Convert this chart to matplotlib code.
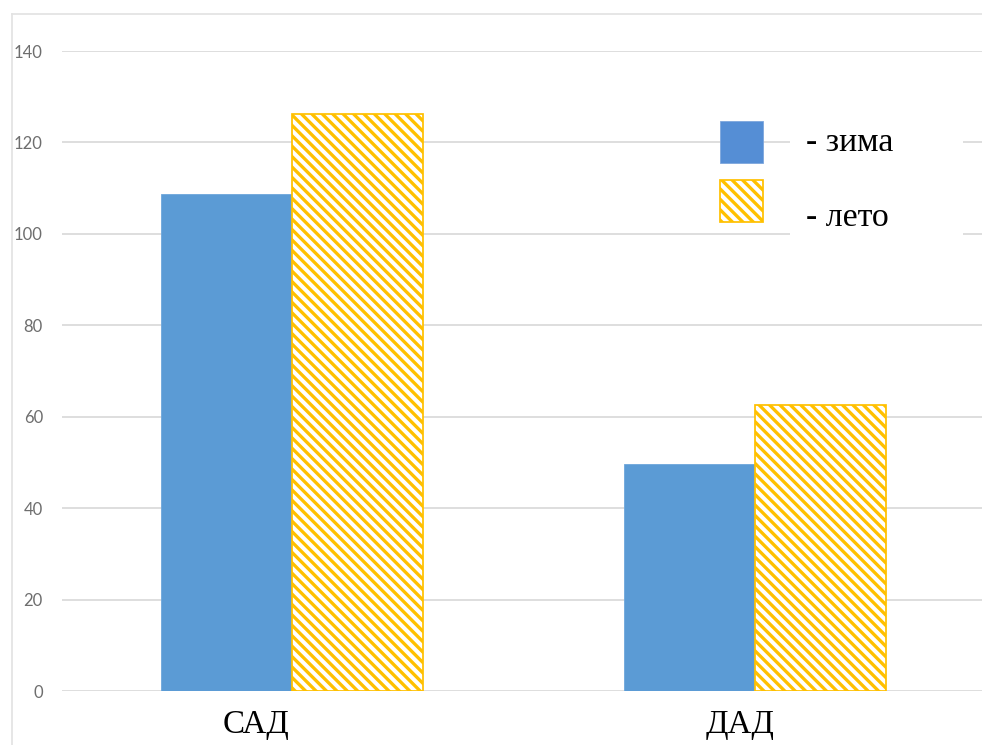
import matplotlib
matplotlib.use("Agg")
import matplotlib.pyplot as plt
from matplotlib.patches import Rectangle
from matplotlib.lines import Line2D
from matplotlib.transforms import blended_transform_factory

# Blood pressure by season
categories = ["САД", "ДАД"]
winter = [108.6, 49.6]
summer = [126.2, 62.6]
series_labels = ["- зима", "- лето"]
y_ticks = [0, 20, 40, 60, 80, 100, 120, 140]

BLUE = "#5B9BD5"
BLUE_KEY = "#558ED5"
GOLD = "#FFC000"
GRID = "#D9D9D9"
HATCH = "\\\\\\\\"

plt.rcParams["hatch.linewidth"] = 1.9

W, H = 982, 745
DPI = 125
fig = plt.figure(figsize=((W + 0.3) / DPI, (H + 0.3) / DPI), dpi=DPI)
fig.patch.set_facecolor("white")


def fx(px):
    return px / W


def fy(py):
    return 1 - py / H


# plot area in pixel terms
left, right, top, bottom = 62, 982, 51, 691
ax = fig.add_axes([fx(left), fy(bottom), fx(right) - fx(left), fy(top) - fy(bottom)])
ax.set_xlim(-0.497, 1.49)
ax.set_ylim(0, 140)
for s in ax.spines.values():
    s.set_visible(False)

ax.set_yticks(y_ticks)
ax.set_yticklabels([str(t) for t in y_ticks], family="Lato", fontsize=9.6, color="#6E6E6E")
ax.tick_params(axis="y", length=0, pad=11)
ax.set_xticks([])
ax.yaxis.grid(True, color=GRID, linewidth=1.0)
ax.set_axisbelow(True)

w = 0.283
x = list(range(len(categories)))
ax.bar([i - w / 2 for i in x], winter, width=w, color=BLUE, edgecolor="#6FA8DC",
       linewidth=0.5, zorder=2)
ax.bar([i + w / 2 for i in x], summer, width=w, color="white", edgecolor=GOLD,
       hatch=HATCH, linewidth=1.0, zorder=2)

# category labels, set slightly left of their bar pairs
label_offsets = [-0.078, -0.034]
tr = blended_transform_factory(ax.transData, fig.transFigure)
for i, (lab, off) in enumerate(zip(categories, label_offsets)):
    ax.text(i + off, fy(733), lab, transform=tr, ha="center", va="baseline",
            family="Liberation Serif", fontsize=19, color="black")

# outer frame
fig.add_artist(Line2D([fx(12), fx(12)], [fy(14), 0], transform=fig.transFigure,
                      color="#E3E3E3", linewidth=1.0))
fig.add_artist(Line2D([fx(12), 1], [fy(14), fy(14)], transform=fig.transFigure,
                      color="#E3E3E3", linewidth=1.0))

# key
fig.add_artist(Rectangle((fx(790), fy(245)), fx(963) - fx(790), fy(110) - fy(245),
                         transform=fig.transFigure, facecolor="white", edgecolor="none"))
fig.add_artist(Rectangle((fx(720), fy(163)), fx(763) - fx(720), fy(121) - fy(163),
                         transform=fig.transFigure, facecolor=BLUE_KEY, edgecolor="#7FA7DD",
                         linewidth=0.5))
fig.add_artist(Rectangle((fx(719.5), fy(222)), fx(763) - fx(719.5), fy(180.5) - fy(222),
                         transform=fig.transFigure, facecolor="white", edgecolor=GOLD,
                         hatch=HATCH, linewidth=1.0))
for lab, base in zip(series_labels, [151, 226]):
    fig.text(fx(806), fy(base), lab, ha="left", va="baseline",
             family="Liberation Serif", fontsize=19.5, color="black")

fig.savefig("out.png", dpi=DPI, facecolor="white")
